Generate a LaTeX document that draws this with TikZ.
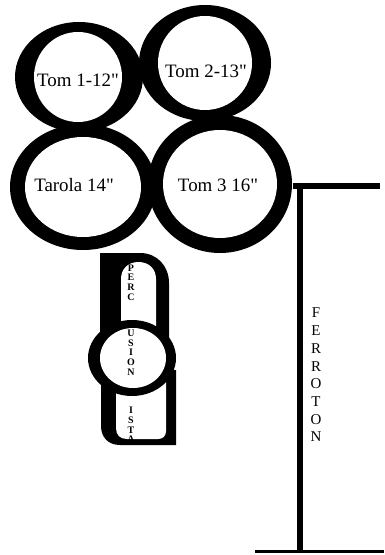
\documentclass[tikz,border=0pt]{standalone}
\usepackage{fontspec}
\newfontfamily\planfont{Liberation Serif}
\begin{document}
\begin{tikzpicture}[x=1bp,y=-1bp,
  drumlabel/.style={font=\planfont\fontsize{19}{19}\selectfont, inner sep=0pt},
  percletters/.style={font=\planfont\bfseries\fontsize{10}{9.8}\selectfont, align=center, inner sep=0pt},
  ferroletters/.style={font=\planfont\fontsize{15}{17.8}\selectfont, align=center, inner sep=0pt},
  ink/.style={fill=black},
  hole/.style={fill=white}]
\useasboundingbox[fill=white] (0,0) rectangle (384,555);

% drum shells: black outer ellipses first, then the white heads
\fill[ink] (79,77)   ellipse [x radius=64, y radius=55];
\fill[ink] (205,63)  ellipse [x radius=66, y radius=58];
\fill[ink] (83,187)  ellipse [x radius=73, y radius=63];
\fill[ink] (220,184) ellipse [x radius=72, y radius=69];
\fill[hole] (78,77)   ellipse [x radius=44, y radius=45];
\fill[hole] (205,63)  ellipse [x radius=47, y radius=47];
\fill[hole] (83,187)  ellipse [x radius=58, y radius=50];
\fill[hole] (220,184) ellipse [x radius=57, y radius=54];

\node[drumlabel] (tom1)   at (78,80)  {Tom 1-12"};
\node[drumlabel] (tom2)   at (206,71) {Tom 2-13"};
\node[drumlabel] (tarola) at (74,185) {Tarola 14"};
\node[drumlabel] (tom3)   at (218,185) {Tom 3 16"};

% percussionist seat: upper arch, lower cup, middle ring
\fill[ink] (100,340) -- (100,253) -- (140,253)
  .. controls (157,253) and (169,266) .. (169,283) -- (169,340) -- cycle;
\fill[hole] (121,340) -- (121,279)
  .. controls (121,269) and (128,262) .. (138.5,262)
  .. controls (149,262) and (156,269) .. (156,279) -- (156,340) -- cycle;
\fill[ink] (101,370) -- (101,426)
  .. controls (101,437) and (108,445) .. (120,445) -- (176,445) -- (176,370) -- cycle;
\fill[hole] (116,370) -- (116,428)
  .. controls (116,435) and (120,439) .. (127,439) -- (158,439)
  .. controls (163,439) and (166,436) .. (166,431) -- (166,370) -- cycle;
\fill[ink] (132,358) ellipse [x radius=44, y radius=38];
\fill[hole] (133,358) ellipse [x radius=33, y radius=30];

\node[percletters] (perc)  at (131,282.5) {P\\E\\R\\C};
\node[percletters] (usion) at (131,352.5) {U\\S\\I\\O\\N};
\node[percletters] (ista)  at (131,425)   {I\\S\\T\\A};

% ferroton stand
\coordinate (ftl) at (293,186);
\coordinate (ftr) at (380,186);
\coordinate (fvt) at (300,186);
\coordinate (fvb) at (300,551);
\coordinate (fbl) at (255,551);
\coordinate (fbr) at (384,551);
\draw[line width=6bp] (ftl) -- (ftr);
\draw[line width=6bp] (fvt) -- (fvb);
\draw[line width=3bp] (fbl) -- (fbr);
\node[ferroletters] (ferroton) at (316,375) {F\\E\\R\\R\\O\\T\\O\\N};
\end{tikzpicture}
\end{document}
